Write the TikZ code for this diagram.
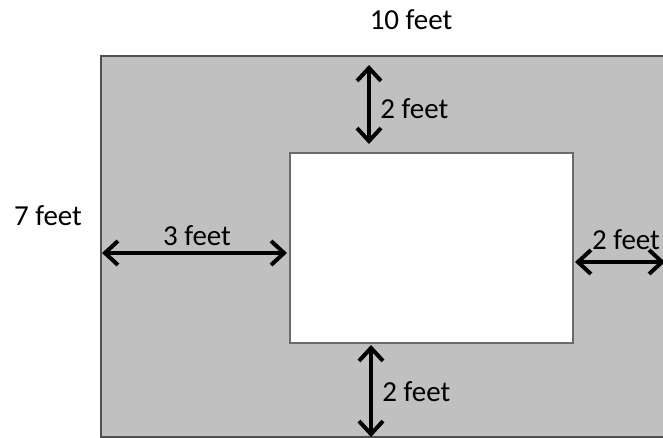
\documentclass[tikz,border=0pt]{standalone}
\usepackage{fontspec}
\setmainfont{Carlito}
\usetikzlibrary{arrows.meta}

\begin{document}
\begin{tikzpicture}[x=0.5pt,y=-0.5pt,font=\fontsize{14.5}{17}\selectfont]
    \tikzset{
        dimarrow/.style={
            {Straight Barb[length=6.5pt,width=12pt]}-{Straight Barb[length=6.5pt,width=12pt]},
            line width=2pt
        },
        label/.style={inner sep=0pt}
    }
    \definecolor{yardgray}{RGB}{192,192,192}
    \definecolor{edgegray}{RGB}{80,80,80}

    \clip (0,0) rectangle (663,438);

    \coordinate (yardNW) at (101,56);
    \coordinate (yardSE) at (680,437);
    \coordinate (poolNW) at (290,153);
    \coordinate (poolSE) at (573,343);
    \filldraw[fill=yardgray,draw=edgegray,line width=1pt] (yardNW) rectangle (yardSE);
    \filldraw[fill=white,draw=edgegray!85,line width=0.75pt] (poolNW) rectangle (poolSE);

    \coordinate (top1) at (369,65);
    \coordinate (top2) at (369,144);
    \coordinate (bot1) at (371,345);
    \coordinate (bot2) at (371,437);
    \coordinate (left1) at (102,253);
    \coordinate (left2) at (287,253);
    \coordinate (right1) at (575,262);
    \coordinate (right2) at (665,262);

    \node[label] (width) at (411,20) {10 feet};
    \node[label] (height) at (48,216) {7 feet};
    \node[label,anchor=west] (topgap) at (380,109) {2 feet};
    \node[label,anchor=west] (botgap) at (382,392) {2 feet};
    \node[label] (leftgap) at (197,236) {3 feet};
    \node[label] (rightgap) at (626,240) {2 feet};

    \draw[dimarrow] (top1) -- (top2);
    \draw[dimarrow] (bot1) -- (bot2);
    \draw[dimarrow] (left1) -- (left2);
    \draw[dimarrow] (right1) -- (right2);
\end{tikzpicture}
\end{document}
